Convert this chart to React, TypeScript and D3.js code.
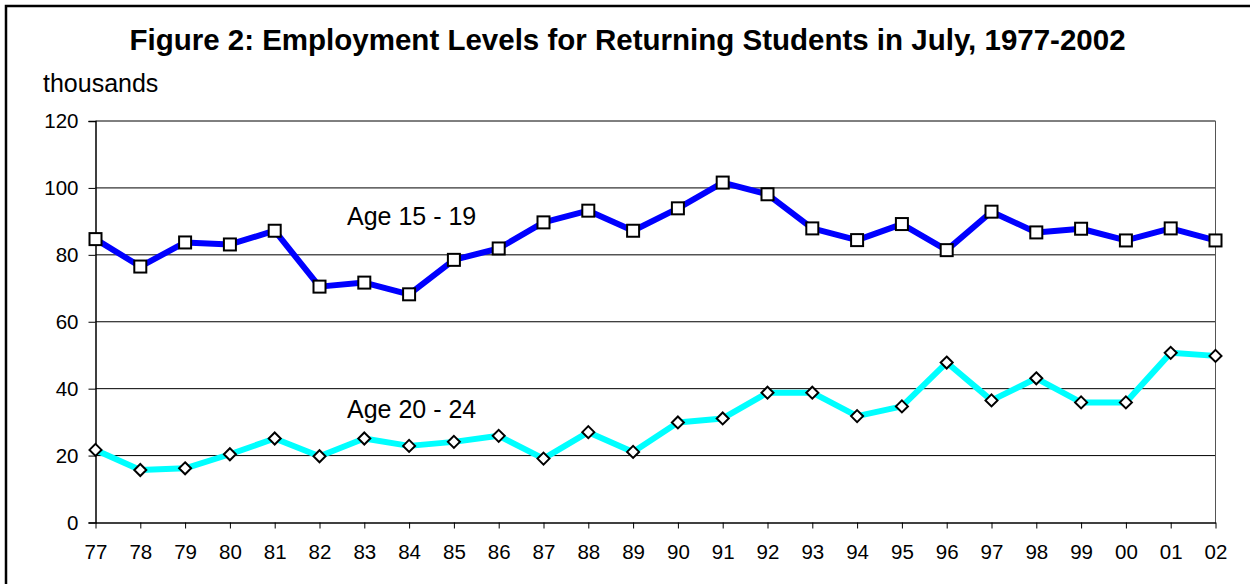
import React, { useEffect, useRef } from 'react';
import * as d3 from 'd3';

const years = ['77', '78', '79', '80', '81', '82', '83', '84', '85', '86', '87', '88', '89',
    '90', '91', '92', '93', '94', '95', '96', '97', '98', '99', '00', '01', '02'];

const age1519 = [84.7, 76.5, 83.7, 83.1, 87.2, 70.5, 71.7, 68.2, 78.5, 81.9, 89.7, 93.2, 87.2,
    93.9, 101.6, 98.1, 87.9, 84.4, 89.2, 81.4, 92.9, 86.7, 87.8, 84.3, 87.9, 84.3];

const age2024 = [21.7, 15.7, 16.2, 20.4, 25.1, 19.8, 25.1, 22.9, 24.1, 25.9, 19.1, 27.0, 21.1,
    29.9, 31.1, 38.8, 38.8, 31.8, 34.7, 47.8, 36.5, 43.1, 35.9, 35.9, 50.7, 49.8];

const yTicks = [0, 20, 40, 60, 80, 100, 120];

const title = 'Figure 2: Employment Levels for Returning Students in July, 1977-2002';

function drawChart(svgRoot: SVGSVGElement) {
    const svg = d3.select(svgRoot);
    svg.selectChildren().remove();

    const width = 1250;
    const height = 584;
    const plot = { left: 95.5, right: 1215.5, top: 121, bottom: 522.5 };
    const font = 'Arial, "Liberation Sans", sans-serif';

    const x = d3.scalePoint<string>().domain(years).range([plot.left, plot.right]);
    const y = d3.scaleLinear().domain([0, 120]).range([plot.bottom, plot.top]);

    svg.attr('width', width).attr('height', height).attr('viewBox', `0 0 ${width} ${height}`);

    svg.append('rect').attr('width', width).attr('height', height).attr('fill', '#fff');

    // outer frame (right and bottom edges run off the page)
    svg.append('rect')
        .attr('x', 6).attr('y', 6)
        .attr('width', width + 20).attr('height', height + 20)
        .attr('fill', 'none').attr('stroke', '#000').attr('stroke-width', 2.5);

    svg.append('text')
        .attr('x', 627.5).attr('y', 50)
        .attr('text-anchor', 'middle')
        .attr('font-family', font).attr('font-weight', 'bold').attr('font-size', 29.5)
        .text(title);

    svg.append('text')
        .attr('x', 43).attr('y', 92)
        .attr('font-family', font).attr('font-size', 25)
        .text('thousands');

    // gridlines
    svg.append('g')
        .selectAll('line')
        .data(yTicks.filter(d => d > 0))
        .join('line')
        .attr('x1', plot.left).attr('x2', plot.right)
        .attr('y1', d => y(d)).attr('y2', d => y(d))
        .attr('stroke', '#000').attr('stroke-width', 1);

    // right border of plot
    svg.append('line')
        .attr('x1', plot.right).attr('x2', plot.right)
        .attr('y1', plot.top).attr('y2', plot.bottom)
        .attr('stroke', '#555').attr('stroke-width', 1);

    // y axis
    const yAxis = svg.append('g')
        .attr('transform', `translate(${plot.left},0)`)
        .call(d3.axisLeft(y).tickValues(yTicks).tickSize(7).tickPadding(10).tickFormat(d3.format('d')));
    yAxis.select('.domain').attr('stroke', '#000').attr('stroke-width', 1.5);
    yAxis.selectAll('.tick line').attr('stroke', '#000');
    yAxis.selectAll('.tick text').attr('font-family', font).attr('font-size', 20.5).attr('fill', '#000');

    // x axis
    const xAxis = svg.append('g')
        .attr('transform', `translate(0,${plot.bottom})`)
        .call(d3.axisBottom(x).tickSize(6).tickPadding(16).tickSizeOuter(0));
    xAxis.select('.domain').attr('stroke', '#000').attr('stroke-width', 1.5);
    xAxis.selectAll('.tick line').attr('stroke', '#000');
    xAxis.selectAll('.tick text').attr('font-family', font).attr('font-size', 20.5).attr('fill', '#000');

    const line = d3.line<number>()
        .x((d, i) => x(years[i]) as number)
        .y(d => y(d));

    // Age 15 - 19
    svg.append('path')
        .datum(age1519)
        .attr('fill', 'none').attr('stroke', '#0000ff').attr('stroke-width', 6)
        .attr('stroke-linejoin', 'round')
        .attr('d', line);

    svg.append('g')
        .selectAll('rect')
        .data(age1519)
        .join('rect')
        .attr('x', (d, i) => (x(years[i]) as number) - 6)
        .attr('y', d => y(d) - 6)
        .attr('width', 12).attr('height', 12)
        .attr('fill', '#fff').attr('stroke', '#000').attr('stroke-width', 2);

    // Age 20 - 24
    svg.append('path')
        .datum(age2024)
        .attr('fill', 'none').attr('stroke', '#00ffff').attr('stroke-width', 6)
        .attr('stroke-linejoin', 'round')
        .attr('d', line);

    svg.append('g')
        .selectAll('path')
        .data(age2024)
        .join('path')
        .attr('transform', (d, i) => `translate(${x(years[i])},${y(d)})`)
        .attr('d', 'M0,-6L6,0L0,6L-6,0Z')
        .attr('fill', '#fff').attr('stroke', '#000').attr('stroke-width', 2);

    svg.append('text')
        .attr('x', 347).attr('y', 225)
        .attr('font-family', font).attr('font-size', 25)
        .text('Age 15 - 19');

    svg.append('text')
        .attr('x', 347).attr('y', 418)
        .attr('font-family', font).attr('font-size', 25)
        .text('Age 20 - 24');
}

export default function App() {
    const svgRef = useRef<SVGSVGElement>(null);

    useEffect(() => {
        svgRef.current && drawChart(svgRef.current);
    }, []);

    return (
        <div style={{ position: 'absolute', left: 0, top: 0 }}>
            <svg ref={svgRef} style={{ display: 'block' }}></svg>
        </div>
    );
}
